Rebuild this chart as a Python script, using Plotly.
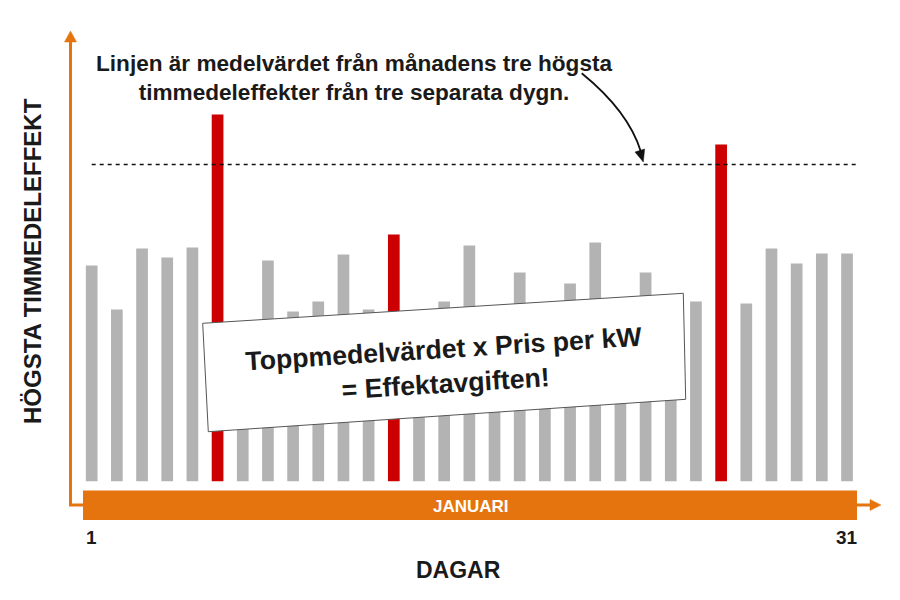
import plotly.graph_objects as go

# ---- data ----
days = list(range(1, 32))
effekt = [21.6, 17.2, 23.3, 22.4, 23.4, 36.7, 15.0, 22.1, 17.0, 18.0, 22.7,
          17.2, 24.7, 16.0, 18.0, 23.6, 16.5, 20.9, 16.0, 19.8, 23.9, 17.0,
          20.9, 16.5, 18.0, 33.7, 17.8, 23.3, 21.8, 22.8, 22.8]
peak_days = [6, 13, 26]
tick_days = [1, 31]
tick_text = ["1", "31"]
month_label = "JANUARI"
x_title = "DAGAR"
y_title = "HÖGSTA TIMMEDELEFFEKT"
note_text = "Linjen är medelvärdet från månadens tre högsta<br>timmedeleffekter från tre separata dygn."
box_text = "Toppmedelvärdet x Pris per kW<br>= Effektavgiften!"

GRAY = "#B3B3B3"
RED = "#CC0000"
ORANGE = "#E5740F"
INK = "#1a1a1a"
OFF = 8               # page body margin
W, H = 900 - OFF, 600 - OFF
FONT = "Liberation Sans, Arial, sans-serif"

peak_vals = [effekt[d - 1] for d in peak_days]
mean_peak = sum(peak_vals) / len(peak_vals)
colors = [RED if d in peak_days else GRAY for d in days]


def P(x, y):
    return (x - OFF) / W, 1 - (y - OFF) / H


def path(points, close=True):
    s = ""
    for i, (x, y) in enumerate(points):
        px, py = P(x, y)
        s += ("M" if i == 0 else "L") + f"{px:.5f},{py:.5f} "
    return s + ("Z" if close else "")


fig = go.Figure()
fig.add_trace(go.Bar(x=days, y=effekt, marker=dict(color=colors, line=dict(width=0)),
                     width=0.465, hoverinfo="skip"))

shapes = []
# dashed mean line
shapes.append(dict(type="line", xref="x", yref="y", x0=1, x1=31.5, y0=mean_peak, y1=mean_peak,
                   line=dict(color="#111", width=1.3, dash="4px,4px"), layer="above"))
# orange axes
shapes.append(dict(type="path", xref="paper", yref="paper",
                   path=path([(70.5, 40), (70.5, 505), (872, 505)], close=False),
                   line=dict(color=ORANGE, width=3)))
shapes.append(dict(type="path", xref="paper", yref="paper",
                   path=path([(70.5, 31), (76.5, 42), (64.5, 42)]),
                   fillcolor=ORANGE, line=dict(color=ORANGE, width=0.5)))
shapes.append(dict(type="path", xref="paper", yref="paper",
                   path=path([(881, 505), (870, 499.5), (870, 510.5)]),
                   fillcolor=ORANGE, line=dict(color=ORANGE, width=0.5)))
# month band
x0, y0 = P(83, 520)
x1, y1 = P(857, 490.5)
shapes.append(dict(type="rect", xref="paper", yref="paper", x0=x0, y0=y0, x1=x1, y1=y1,
                   fillcolor=ORANGE, line=dict(width=0)))
# rotated box
shapes.append(dict(type="path", xref="paper", yref="paper",
                   path=path([(202.7, 323.3), (683.3, 293.3), (685.7, 399.3), (208.3, 431.7)]),
                   fillcolor="white", line=dict(color="#555", width=1), layer="above"))
# curved arrow
a0 = P(581.7, 73.3)
ac = P(628.6, 111.4)
a1 = P(641, 152)
shapes.append(dict(type="path", xref="paper", yref="paper",
                   path=f"M{a0[0]:.5f},{a0[1]:.5f} Q{ac[0]:.5f},{ac[1]:.5f} {a1[0]:.5f},{a1[1]:.5f}",
                   line=dict(color="#111", width=1.8)))
shapes.append(dict(type="path", xref="paper", yref="paper",
                   path=path([(643.3, 162), (635, 152), (644.6, 149)]),
                   fillcolor="#111", line=dict(color="#111", width=0.5)))

ann = []
nx, ny = P(353.5, 77.5)
ann.append(dict(x=nx, y=ny, xref="paper", yref="paper", text=f"<b>{note_text}</b>",
                showarrow=False, xanchor="center", yanchor="middle",
                font=dict(family=FONT, size=22.6, color=INK)))
bx, by = P(445, 366)
ann.append(dict(x=bx, y=by, xref="paper", yref="paper", text=f"<b>{box_text}</b>",
                showarrow=False, xanchor="center", yanchor="middle", textangle=-3.6,
                font=dict(family=FONT, size=26.7, color=INK)))
mx, my = P(470.5, 506)
ann.append(dict(x=mx, y=my, xref="paper", yref="paper", text=f"<b>{month_label}</b>",
                showarrow=False, xanchor="center", yanchor="middle",
                font=dict(family=FONT, size=17, color="white")))
_, ty = P(0, 537)
for d, t in zip(tick_days, tick_text):
    ann.append(dict(x=d, y=ty, xref="x", yref="paper", text=f"<b>{t}</b>",
                    showarrow=False, xanchor="center", yanchor="middle",
                    font=dict(family=FONT, size=19, color=INK)))
dx, dy = P(458.5, 570)
ann.append(dict(x=dx, y=dy, xref="paper", yref="paper", text=f"<b>{x_title}</b>",
                showarrow=False, xanchor="center", yanchor="middle",
                font=dict(family=FONT, size=23, color=INK)))
yx, yy = P(32, 261)
ann.append(dict(x=yx, y=yy, xref="paper", yref="paper", text=f"<b>{y_title}</b>",
                showarrow=False, xanchor="center", yanchor="middle", textangle=-90,
                font=dict(family=FONT, size=24, color=INK)))

bottom_px = 481.5
fig.update_layout(
    width=W, height=H, margin=dict(l=0, r=0, t=0, b=0),
    paper_bgcolor="white", plot_bgcolor="white", showlegend=False,
    xaxis=dict(domain=[(79.1 - OFF) / W, (859.6 - OFF) / W], range=[0.5, 31.5], showgrid=False,
               zeroline=False, showticklabels=False, ticks="", showline=False),
    yaxis=dict(domain=[1 - (bottom_px - OFF) / H, 1], range=[0, (bottom_px - OFF) / 10],
               showgrid=False, zeroline=False, showticklabels=False, ticks="", showline=False),
    shapes=shapes, annotations=ann,
)

fig.write_html("out.html")
